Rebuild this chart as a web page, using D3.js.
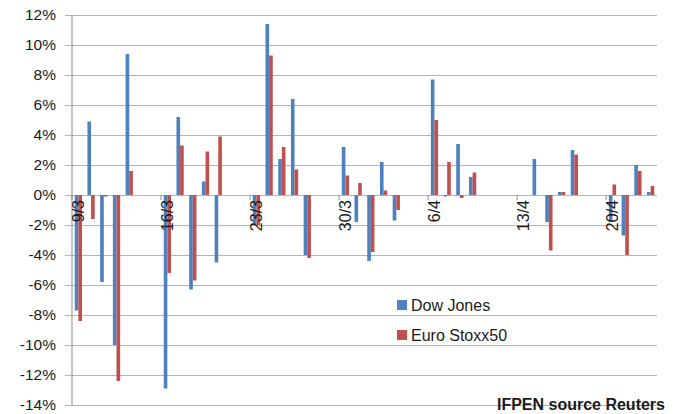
<!DOCTYPE html>
<html>
<head>
<meta charset="utf-8">
<script src="https://cdn.jsdelivr.net/npm/d3@7"></script>
<style>
  body { margin: 0; background: #fff; }
  svg { display: block; font-family: "Liberation Sans", Arial, sans-serif; }
</style>
</head>
<body>
<div id="chart"></div>
<script>
var width = 682, height = 414;

// trading days and daily change (%)
var days = ["2020-03-09","2020-03-10","2020-03-11","2020-03-12","2020-03-13",
            "2020-03-16","2020-03-17","2020-03-18","2020-03-19","2020-03-20",
            "2020-03-23","2020-03-24","2020-03-25","2020-03-26","2020-03-27",
            "2020-03-30","2020-03-31","2020-04-01","2020-04-02","2020-04-03",
            "2020-04-06","2020-04-07","2020-04-08","2020-04-09",
            "2020-04-14","2020-04-15","2020-04-16","2020-04-17",
            "2020-04-20","2020-04-21","2020-04-22","2020-04-23"];
var dowJones = [-7.7, 4.9, -5.8, -10.0, 9.4,
                -12.9, 5.2, -6.3, 0.9, -4.5,
                -2.0, 11.4, 2.4, 6.4, -4.0,
                3.2, -1.8, -4.4, 2.2, -1.7,
                7.7, -0.1, 3.4, 1.2,
                2.4, -1.8, 0.2, 3.0,
                -1.8, -2.7, 2.0, 0.2];
var euroStoxx = [-8.4, -1.6, -0.1, -12.4, 1.6,
                 -5.2, 3.3, -5.7, 2.9, 3.9,
                 -2.0, 9.3, 3.2, 1.7, -4.2,
                 1.3, 0.8, -3.8, 0.3, -1.0,
                 5.0, 2.2, -0.2, 1.5,
                 null, -3.7, 0.2, 2.7,
                 0.7, -4.0, 1.6, 0.6];
var seriesNames = ["Dow Jones", "Euro Stoxx50"];
var colors = ["#4f81bd", "#c0504d"];
var yTicks = [-14,-12,-10,-8,-6,-4,-2,0,2,4,6,8,10,12];
var axisStart = "2020-03-09", axisEnd = "2020-04-23";

var margin = {left: 72, right: 25, top: 15, bottom: 9};

var parse = d3.utcParse("%Y-%m-%d");
var fmt = d3.utcFormat("%-d/%-m");
var allDays = d3.utcDay.range(parse(axisStart), d3.utcDay.offset(parse(axisEnd), 1));

var x = d3.scaleBand()
    .domain(allDays.map(function(d){ return +d; }))
    .range([margin.left, width - margin.right]);

var inner = d3.scaleBand()
    .domain(seriesNames)
    .range([0, x.bandwidth()])
    .paddingInner(0)
    .paddingOuter(0.75);

var y = d3.scaleLinear()
    .domain([-14, 12])
    .range([height - margin.bottom, margin.top]);

var svg = d3.select("#chart").append("svg")
    .attr("width", width)
    .attr("height", height);

// gridlines + y labels
var yAxis = svg.append("g")
    .attr("transform", "translate(" + margin.left + ",0)")
    .call(d3.axisLeft(y).tickValues(yTicks)
        .tickSize(-(width - margin.left - margin.right))
        .tickPadding(16)
        .tickFormat(function(d){ return d + "%"; }));
yAxis.select(".domain").remove();
yAxis.selectAll(".tick line").attr("stroke", "#b4b4b4").attr("x1", -7);
yAxis.selectAll(".tick text")
    .attr("fill", "#1a1a1a")
    .style("font-size", "15.5px")
    .style("font-family", "'Liberation Sans', Arial, sans-serif");

svg.append("line")
    .attr("x1", margin.left).attr("x2", margin.left)
    .attr("y1", y(12)).attr("y2", y(-14))
    .attr("stroke", "#8c8c8c");

// bars
var rows = days.map(function(d, i){
    return {day: +parse(d), vals: [dowJones[i], euroStoxx[i]]};
});

var groups = svg.append("g").selectAll("g")
    .data(rows)
    .join("g")
    .attr("transform", function(d){ return "translate(" + x(d.day) + ",0)"; });

groups.selectAll("rect")
    .data(function(d){
        return d.vals.map(function(v, k){ return {name: seriesNames[k], v: v, k: k}; })
                     .filter(function(e){ return e.v !== null; });
    })
    .join("rect")
    .attr("x", function(d){ return inner(d.name); })
    .attr("width", inner.bandwidth())
    .attr("y", function(d){ return y(Math.max(0, d.v)); })
    .attr("height", function(d){ return Math.abs(y(d.v) - y(0)); })
    .attr("fill", function(d){ return colors[d.k]; });

// x axis: weekly labels next to the zero line
var weekly = allDays.filter(function(d, i){ return i % 7 === 0; });
var xAxis = svg.append("g");
xAxis.selectAll("line")
    .data(weekly)
    .join("line")
    .attr("x1", function(d){ return x(+d); })
    .attr("x2", function(d){ return x(+d); })
    .attr("y1", y(0)).attr("y2", y(0) + 5)
    .attr("stroke", "#8c8c8c");
xAxis.selectAll("text")
    .data(weekly)
    .join("text")
    .attr("transform", function(d){
        return "translate(" + (x(+d) + x.bandwidth() / 2 + 5.5) + "," + (y(0) + 5) + ") rotate(-90)";
    })
    .attr("text-anchor", "end")
    .attr("fill", "#1a1a1a")
    .style("font-size", "16px")
    .text(function(d){ return fmt(d); });

// legend
var legend = svg.append("g").attr("transform", "translate(397,300)");
var li = legend.selectAll("g")
    .data(seriesNames)
    .join("g")
    .attr("transform", function(d, i){ return "translate(0," + i * 30 + ")"; });
li.append("rect")
    .attr("width", 10).attr("height", 10)
    .attr("fill", function(d, i){ return colors[i]; });
li.append("text")
    .attr("x", 14).attr("y", 5)
    .attr("dy", "0.35em")
    .attr("fill", "#1a1a1a")
    .style("font-size", "16px")
    .text(function(d){ return d; });

// source note
svg.append("text")
    .attr("x", 665).attr("y", 410)
    .attr("text-anchor", "end")
    .attr("fill", "#1a1a1a")
    .style("font-size", "16px")
    .style("font-weight", "bold")
    .text("IFPEN source Reuters");
</script>
</body>
</html>
